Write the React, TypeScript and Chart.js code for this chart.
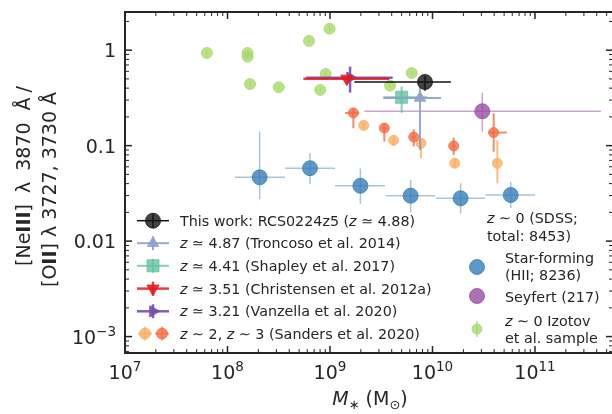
import React, { useEffect, useRef } from 'react';
import { Chart, registerables } from 'chart.js';

Chart.register(...registerables);

// ---------- axis ranges ----------
const X_MIN = 1e7;
const X_MAX = 5.64e11;
const Y_MIN = 6.73e-4;
const Y_MAX = 2.51;

const X_TICK_EXPONENTS = [7, 8, 9, 10, 11];
const Y_TICK_VALUES = [1e-3, 1e-2, 1e-1, 1];
const Y_TICK_LABELS = ['10^-3', '0.01', '0.1', '1'];

// ---------- data ----------
// This work: RCS0224z5
const thisWorkMass = [8.45e9];
const thisWorkRatio = [0.464];
const thisWorkMassErr = [[1.73e9, 1.51e10]];
const thisWorkRatioErr = [[0.376, 0.537]];

// Troncoso et al. 2014 (z ~ 4.87)
const troncosoMass = [7.55e9];
const troncosoRatio = [0.316];
const troncosoMassErr = [[3.31e9, 1.21e10]];
const troncosoRatioErr = [[0.09, 0.412]];

// Shapley et al. 2017 (z ~ 4.41)
const shapleyMass = [5.0e9];
const shapleyRatio = [0.321];
const shapleyMassErr = [[3.31e9, 8.9e9]];
const shapleyRatioErr = [[0.221, 0.415]];

// Christensen et al. 2012a (z ~ 3.51)
const christensenMass = [1.46e9];
const christensenRatio = [0.503];
const christensenMassErr = [[5.5e8, 3.78e9]];

// Vanzella et al. 2020 (z ~ 3.21)
const vanzellaMass = [1.57e9];
const vanzellaRatio = [0.515];
const vanzellaMassErr = [[5.84e8, 4.09e9]];
const vanzellaRatioErr = [[0.359, 0.672]];

// Sanders et al. 2020, z ~ 2
const sandersZ2Mass = [2.13e9, 4.18e9, 7.73e9, 1.65e10, 4.29e10];
const sandersZ2Ratio = [0.163, 0.114, 0.106, 0.0653, 0.0653];
const sandersZ2RatioErr = [[0.152, 0.175], [0.099, 0.126], [0.0737, 0.114], [0.0589, 0.074], [0.0403, 0.114]];

// Sanders et al. 2020, z ~ 3
const sandersZ3Mass = [1.69e9, 3.39e9, 6.56e9, 1.61e10, 3.95e10];
const sandersZ3Ratio = [0.22, 0.153, 0.123, 0.0992, 0.137];
const sandersZ3MassErr = [[1.4e9, 1.93e9], [3.2e9, 3.6e9], [6.2e9, 6.9e9], [1.55e10, 1.68e10], [3.5e10, 5.3e10]];
const sandersZ3RatioErr = [[0.152, 0.248], [0.11, 0.172], [0.098, 0.148], [0.08, 0.121], [0.0864, 0.218]];

// SDSS star-forming (HII) bins
const sdssMass = [2.06e8, 6.38e8, 1.98e9, 6.12e9, 1.88e10, 5.8e10];
const sdssRatio = [0.0466, 0.058, 0.038, 0.0299, 0.0281, 0.0304];
const sdssMassErr = [[1.18e8, 3.64e8], [3.64e8, 1.12e9], [1.12e9, 3.44e9], [3.52e9, 1.06e10], [1.08e10, 3.25e10], [3.3e10, 1.0e11]];
const sdssRatioErr = [[0.0274, 0.14], [0.0394, 0.083], [0.0245, 0.0577], [0.0201, 0.0436], [0.0196, 0.0405], [0.0222, 0.0417]];

// SDSS Seyfert
const seyfertMass = [3.06e10];
const seyfertRatio = [0.229];
const seyfertMassErr = [[2.16e9, 4.4e11]];
const seyfertRatioErr = [[0.14, 0.359]];

// Izotov et al. sample (z ~ 0)
const izotovMass = [6.3e7, 1.57e8, 1.57e8, 1.66e8, 3.16e8, 6.24e8, 9.9e8, 9.08e8, 8.04e8, 3.85e9, 6.27e9];
const izotovRatio = [0.935, 0.935, 0.855, 0.442, 0.409, 1.25, 1.68, 0.563, 0.383, 0.425, 0.577];
const izotovRatioErr = [[0.88, 0.99], [0.88, 0.99], [0.8, 0.91], [0.415, 0.47], [0.385, 0.435], [1.18, 1.32], [1.58, 1.78], [0.53, 0.6], [0.36, 0.405], [0.4, 0.45], [0.545, 0.61]];

// ---------- styles ----------
type Series = {
  xs: number[]; ys: number[];
  xErr?: number[][]; yErr?: number[][];
  color: string; errColor: string; errWidth: number;
  style: string; rotation: number; radius: number; order: number;
};

const SERIES: Series[] = [
  { xs: thisWorkMass, ys: thisWorkRatio, xErr: thisWorkMassErr, yErr: thisWorkRatioErr,
    color: 'rgba(20,20,20,0.8)', errColor: '#111', errWidth: 1.5, style: 'circle', rotation: 0, radius: 7.5, order: 0 },
  { xs: troncosoMass, ys: troncosoRatio, xErr: troncosoMassErr, yErr: troncosoRatioErr,
    color: 'rgba(141,160,203,0.9)', errColor: 'rgba(141,160,203,0.9)', errWidth: 2, style: 'triangle', rotation: 0, radius: 6.5, order: 1 },
  { xs: shapleyMass, ys: shapleyRatio, xErr: shapleyMassErr, yErr: shapleyRatioErr,
    color: 'rgba(102,194,165,0.8)', errColor: 'rgba(102,194,165,0.8)', errWidth: 2, style: 'rect', rotation: 0, radius: 8.5, order: 2 },
  { xs: christensenMass, ys: christensenRatio, xErr: christensenMassErr,
    color: 'rgba(228,26,28,0.85)', errColor: 'rgba(228,26,28,0.85)', errWidth: 2.5, style: 'triangle', rotation: 180, radius: 7, order: 3 },
  { xs: vanzellaMass, ys: vanzellaRatio, xErr: vanzellaMassErr, yErr: vanzellaRatioErr,
    color: 'rgba(120,76,180,0.9)', errColor: 'rgba(120,76,180,0.9)', errWidth: 2.5, style: 'triangle', rotation: 90, radius: 6.5, order: 4 },
  { xs: sandersZ3Mass, ys: sandersZ3Ratio, xErr: sandersZ3MassErr, yErr: sandersZ3RatioErr,
    color: 'rgba(244,109,67,0.8)', errColor: 'rgba(244,109,67,0.8)', errWidth: 2, style: 'circle', rotation: 0, radius: 5, order: 5 },
  { xs: sandersZ2Mass, ys: sandersZ2Ratio, yErr: sandersZ2RatioErr,
    color: 'rgba(253,174,97,0.8)', errColor: 'rgba(253,174,97,0.8)', errWidth: 2, style: 'circle', rotation: 0, radius: 5, order: 6 },
  { xs: seyfertMass, ys: seyfertRatio, xErr: seyfertMassErr, yErr: seyfertRatioErr,
    color: 'rgba(152,78,163,0.8)', errColor: 'rgba(152,78,163,0.5)', errWidth: 1.5, style: 'circle', rotation: 0, radius: 7.5, order: 7 },
  { xs: sdssMass, ys: sdssRatio, xErr: sdssMassErr, yErr: sdssRatioErr,
    color: 'rgba(55,126,184,0.8)', errColor: 'rgba(55,126,184,0.45)', errWidth: 1.5, style: 'circle', rotation: 0, radius: 7.5, order: 8 },
  { xs: izotovMass, ys: izotovRatio, yErr: izotovRatioErr,
    color: 'rgba(166,217,106,0.8)', errColor: 'rgba(120,180,60,0.8)', errWidth: 1, style: 'circle', rotation: 0, radius: 5.5, order: 9 },
];

const TEXT = '#262626';
const FONT = '"DejaVu Sans", "Liberation Sans", sans-serif';

type Part = { t: string; size: number; italic?: boolean; bold?: boolean; dy?: number; gap?: number };

function fontOf(p: Part) {
  return `${p.italic ? 'italic ' : ''}${p.bold ? 'bold ' : ''}${p.size}px ${FONT}`;
}

function richWidth(ctx: CanvasRenderingContext2D, parts: Part[]) {
  let w = 0;
  for (const p of parts) { ctx.font = fontOf(p); w += ctx.measureText(p.t).width + (p.gap || 0); }
  return w;
}

function drawRich(ctx: CanvasRenderingContext2D, parts: Part[], x: number, y: number, align: 'left' | 'center' | 'right' = 'left') {
  const w = richWidth(ctx, parts);
  let cx = align === 'left' ? x : align === 'center' ? x - w / 2 : x - w;
  ctx.textAlign = 'left';
  ctx.textBaseline = 'alphabetic';
  ctx.fillStyle = TEXT;
  for (const p of parts) {
    ctx.font = fontOf(p);
    ctx.fillText(p.t, cx, y + (p.dy || 0));
    cx += ctx.measureText(p.t).width + (p.gap || 0);
  }
}

function drawMarker(ctx: CanvasRenderingContext2D, style: string, x: number, y: number, r: number, color: string, rotation: number) {
  ctx.save();
  ctx.fillStyle = color;
  ctx.strokeStyle = color;
  ctx.lineWidth = 1;
  ctx.beginPath();
  if (style === 'circle') {
    ctx.arc(x, y, r, 0, Math.PI * 2);
  } else if (style === 'rect') {
    const s = Math.SQRT1_2 * r;
    ctx.rect(x - s, y - s, 2 * s, 2 * s);
  } else if (style === 'triangle') {
    let rad = (rotation * Math.PI) / 180;
    ctx.moveTo(x + Math.sin(rad) * r, y - Math.cos(rad) * r);
    rad += (2 * Math.PI) / 3;
    ctx.lineTo(x + Math.sin(rad) * r, y - Math.cos(rad) * r);
    rad += (2 * Math.PI) / 3;
    ctx.lineTo(x + Math.sin(rad) * r, y - Math.cos(rad) * r);
    ctx.closePath();
  }
  ctx.fill();
  ctx.stroke();
  ctx.restore();
}

function line(ctx: CanvasRenderingContext2D, x1: number, y1: number, x2: number, y2: number) {
  ctx.beginPath();
  ctx.moveTo(x1, y1);
  ctx.lineTo(x2, y2);
  ctx.stroke();
}

const errorBarPlugin = {
  id: 'errbars',
  beforeDatasetDraw(chart: any, args: any) {
    const s = SERIES[args.index];
    if (!s) return;
    const ctx: CanvasRenderingContext2D = chart.ctx;
    const xs = chart.scales.x;
    const ys = chart.scales.y;
    const a = chart.chartArea;
    ctx.save();
    ctx.beginPath();
    ctx.rect(a.left, a.top, a.right - a.left, a.bottom - a.top);
    ctx.clip();
    ctx.strokeStyle = s.errColor;
    ctx.lineWidth = s.errWidth;
    s.xs.forEach((xv, i) => {
      const px = xs.getPixelForValue(xv);
      const py = ys.getPixelForValue(s.ys[i]);
      if (s.xErr) line(ctx, xs.getPixelForValue(s.xErr[i][0]), py, xs.getPixelForValue(s.xErr[i][1]), py);
      if (s.yErr) line(ctx, px, ys.getPixelForValue(s.yErr[i][0]), px, ys.getPixelForValue(s.yErr[i][1]));
    });
    ctx.restore();
  },
};

const frameSize = 19;
const supSize = 13.5;
const legSize = 14.3;

const axesPlugin = {
  id: 'axesFrame',
  afterDraw(chart: any) {
    const ctx: CanvasRenderingContext2D = chart.ctx;
    const a = chart.chartArea;
    const xs = chart.scales.x;
    const ys = chart.scales.y;
    ctx.save();
    ctx.strokeStyle = TEXT;
    // spines
    ctx.lineWidth = 2;
    line(ctx, a.left, a.top, a.right, a.top);
    line(ctx, a.left, a.bottom, a.right, a.bottom);
    line(ctx, a.left, a.top - 1, a.left, a.bottom + 1);
    // x ticks
    for (let d = 7; d <= 11; d++) {
      for (let m = 1; m <= 9; m++) {
        const v = m * Math.pow(10, d);
        if (v < X_MIN || v > X_MAX) continue;
        const px = xs.getPixelForValue(v);
        const major = m === 1;
        ctx.lineWidth = major ? 1.5 : 1;
        const L = major ? 7 : 4;
        line(ctx, px, a.bottom, px, a.bottom - L);
        line(ctx, px, a.top, px, a.top + L);
      }
    }
    for (let d = -4; d <= 0; d++) {
      for (let m = 1; m <= 9; m++) {
        const v = m * Math.pow(10, d);
        if (v < Y_MIN || v > Y_MAX) continue;
        const py = ys.getPixelForValue(v);
        const major = m === 1;
        ctx.lineWidth = major ? 1.5 : 1;
        const L = major ? 7 : 4;
        line(ctx, a.left, py, a.left + L, py);
        line(ctx, a.right + 1, py, a.right + 1 - L, py);
      }
    }
    // x tick labels
    X_TICK_EXPONENTS.forEach((e) => {
      const px = xs.getPixelForValue(Math.pow(10, e));
      drawRich(ctx, [{ t: '10', size: frameSize }, { t: String(e), size: supSize, dy: -8 }], px, 379, 'center');
    });
    // y tick labels
    Y_TICK_VALUES.forEach((v, i) => {
      const py = ys.getPixelForValue(v);
      const lab = Y_TICK_LABELS[i];
      if (lab.startsWith('10^')) {
        drawRich(ctx, [{ t: '10', size: frameSize }, { t: '\u2212' + lab.slice(4), size: supSize, dy: -8 }], 116, py + 7, 'right');
      } else {
        drawRich(ctx, [{ t: lab, size: frameSize }], 116, py + 7, 'right');
      }
    });
    // x axis title
    drawRich(ctx, [
      { t: 'M', size: frameSize, italic: true },
      { t: '\u2217', size: 13, dy: 4 },
      { t: ' (M', size: frameSize },
      { t: '\u2299', size: 13, dy: 4 },
      { t: ')', size: frameSize },
    ], 370, 405, 'center');
    // y axis title (rotated, two lines)
    ctx.save();
    ctx.translate(30, 266);
    ctx.rotate(-Math.PI / 2);
    drawRich(ctx, [
      { t: '[Ne', size: frameSize }, { t: 'III', size: frameSize, bold: true }, { t: ']', size: frameSize, gap: 11 },
      { t: '\u03bb', size: frameSize, gap: 11 }, { t: '3870', size: frameSize, gap: 12 },
      { t: '\u00c5', size: frameSize, gap: 5 }, { t: '/', size: frameSize },
    ], 0, 0, 'left');
    ctx.restore();
    ctx.save();
    ctx.translate(56, 287);
    ctx.rotate(-Math.PI / 2);
    drawRich(ctx, [
      { t: '[O', size: frameSize }, { t: 'II', size: frameSize, bold: true }, { t: '] \u03bb 3727, 3730 \u00c5', size: frameSize },
    ], 0, 0, 'left');
    ctx.restore();

    // ---------- left legend ----------
    const rows = [220.7, 243.2, 265.8, 288.6, 311.3, 333.6];
    const legendText: Part[][] = [
      [{ t: 'This work: RCS0224z5 (', size: legSize }, { t: 'z', size: legSize, italic: true }, { t: ' \u2243 4.88)', size: legSize }],
      [{ t: 'z', size: legSize, italic: true }, { t: ' \u2243 4.87 (Troncoso et al. 2014)', size: legSize }],
      [{ t: 'z', size: legSize, italic: true }, { t: ' \u2243 4.41 (Shapley et al. 2017)', size: legSize }],
      [{ t: 'z', size: legSize, italic: true }, { t: ' \u2243 3.51 (Christensen et al. 2012a)', size: legSize }],
      [{ t: 'z', size: legSize, italic: true }, { t: ' \u2243 3.21 (Vanzella et al. 2020)', size: legSize }],
      [{ t: 'z', size: legSize, italic: true }, { t: ' \u223c 2, ', size: legSize }, { t: 'z', size: legSize, italic: true }, { t: ' \u223c 3 (Sanders et al. 2020)', size: legSize }],
    ];
    const legSeries = [0, 1, 2, 3, 4];
    legSeries.forEach((si, r) => {
      const s = SERIES[si];
      const y = rows[r];
      ctx.strokeStyle = s.errColor;
      ctx.lineWidth = s.errWidth;
      line(ctx, 137, y, 169, y);
      line(ctx, 153, y - 7, 153, y + 7);
      drawMarker(ctx, s.style, 153, y, s.radius, s.color, s.rotation);
    });
    // Sanders legend handles
    [[145, SERIES[6]], [162, SERIES[5]]].forEach(([x, s]: any) => {
      const y = rows[5];
      ctx.strokeStyle = s.errColor;
      ctx.lineWidth = 1.5;
      line(ctx, x - 7, y, x + 7, y);
      line(ctx, x, y - 7, x, y + 7);
      drawMarker(ctx, 'circle', x, y, 5.5, s.color, 0);
    });
    legendText.forEach((parts, r) => drawRich(ctx, parts, 180, rows[r] + 5, 'left'));

    // ---------- right legend ----------
    drawRich(ctx, [{ t: 'z', size: legSize, italic: true }, { t: ' \u223c 0 (SDSS;', size: legSize }], 487, 223, 'left');
    drawRich(ctx, [{ t: 'total: 8453)', size: legSize }], 487, 241, 'left');
    drawMarker(ctx, 'circle', 477, 267, 7.5, SERIES[8].color, 0);
    drawRich(ctx, [{ t: 'Star-forming', size: legSize }], 505, 263, 'left');
    drawRich(ctx, [{ t: '(HII; 8236)', size: legSize }], 505, 280, 'left');
    drawMarker(ctx, 'circle', 477, 296, 7.5, SERIES[7].color, 0);
    drawRich(ctx, [{ t: 'Seyfert (217)', size: legSize }], 505, 302, 'left');
    ctx.strokeStyle = SERIES[9].errColor;
    ctx.lineWidth = 1;
    line(ctx, 477, 321, 477, 337);
    drawMarker(ctx, 'circle', 477, 329, 5, SERIES[9].color, 0);
    drawRich(ctx, [{ t: 'z', size: legSize, italic: true }, { t: ' \u223c 0 Izotov', size: legSize }], 505, 326, 'left');
    drawRich(ctx, [{ t: 'et al. sample', size: legSize }], 505, 343, 'left');

    ctx.restore();
  },
};

export default function App() {
  const ref = useRef<HTMLCanvasElement>(null);
  useEffect(() => {
    document.body.style.margin = '0';
    const canvas = ref.current;
    if (!canvas) return;
    const chart = new Chart(canvas, {
      type: 'scatter',
      data: {
        datasets: SERIES.map((s) => ({
          data: s.xs.map((x, i) => ({ x, y: s.ys[i] })),
          pointStyle: s.style as any,
          rotation: s.rotation,
          pointRadius: s.radius,
          pointHoverRadius: s.radius,
          backgroundColor: s.color,
          borderColor: s.color,
          pointBorderWidth: 1,
          showLine: false,
          order: s.order,
        })),
      },
      options: {
        responsive: false,
        animation: false,
        devicePixelRatio: 1,
        events: [],
        layout: { autoPadding: false, padding: { left: 125, right: 0, top: 12, bottom: 61 } },
        scales: {
          x: { type: 'logarithmic', min: X_MIN, max: X_MAX, display: false },
          y: { type: 'logarithmic', min: Y_MIN, max: Y_MAX, display: false },
        },
        plugins: { legend: { display: false }, tooltip: { enabled: false } },
      },
      plugins: [errorBarPlugin, axesPlugin],
    } as any);
    return () => chart.destroy();
  }, []);
  return (
    <div style={{ width: 612, height: 414, background: '#fff' }}>
      <canvas ref={ref} width={612} height={414} style={{ display: 'block' }} />
    </div>
  );
}
